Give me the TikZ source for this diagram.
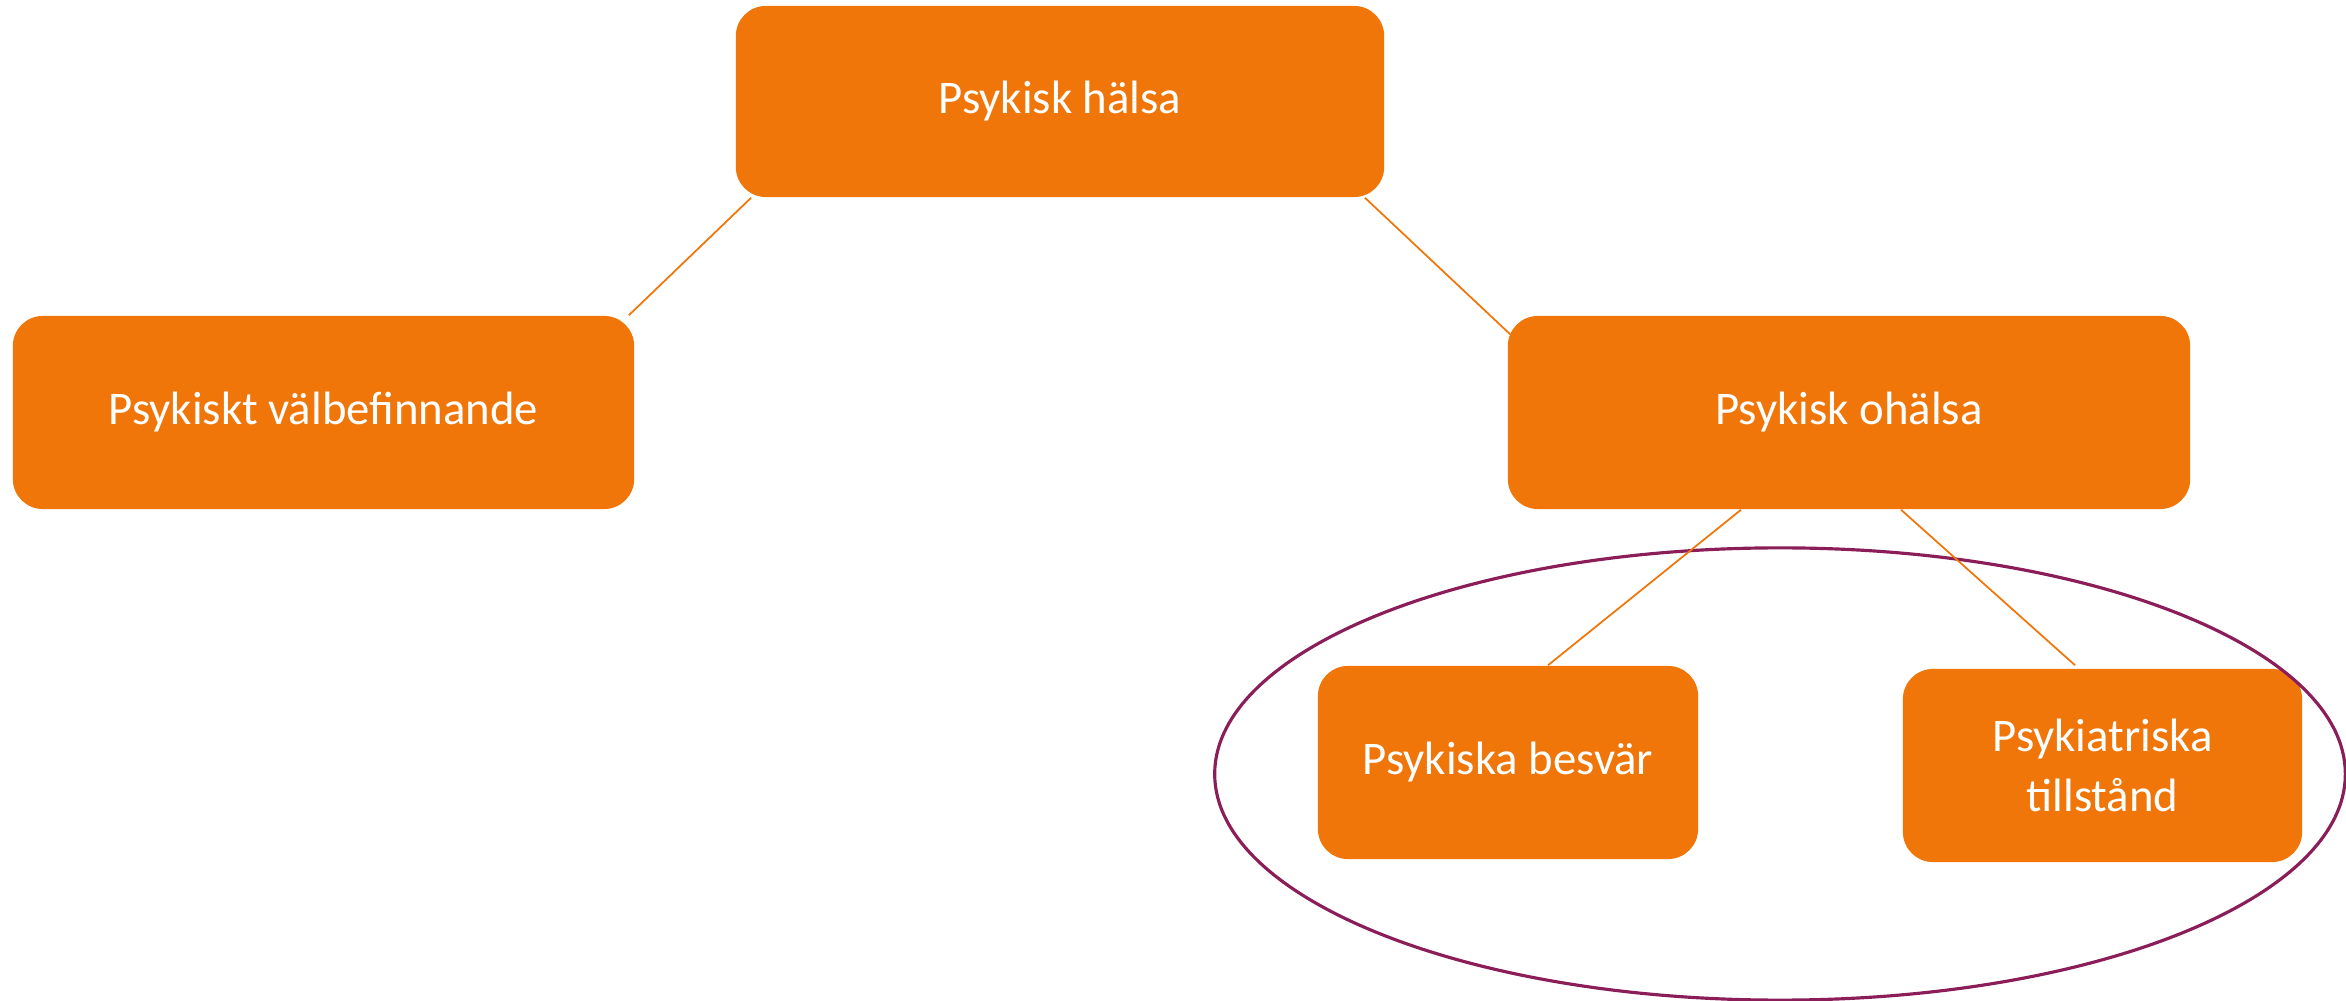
\documentclass[tikz,border=0pt]{standalone}
\usepackage{fontspec}
\setmainfont{Carlito}
\usetikzlibrary{calc,shapes.geometric}
\definecolor{boxorange}{HTML}{F0760A}
\definecolor{ringpurple}{HTML}{8B1E58}
\tikzset{
  topic/.style={
    fill=boxorange,
    rounded corners=0.3cm,
    minimum height=1.93cm,
    align=center,
    text=white,
    inner sep=0pt,
    font=\fontsize{13.3}{17}\selectfont
  },
  link/.style={draw=boxorange,line width=0.5pt},
  ring/.style={draw=ringpurple,line width=0.9pt}
}

\begin{document}
\begin{tikzpicture}[x=0.01cm,y=-0.01cm]
  \useasboundingbox (0,0) rectangle (2346,1001);

  \node[topic, minimum width=6.48cm, minimum height=1.91cm] (halsa) at (1060,101.5) {Psykisk hälsa};
  \node[topic, minimum width=6.21cm] (valbefinnande) at (323.5,412.5) {Psykiskt välbefinnande};
  \node[topic, minimum width=6.82cm] (ohalsa) at (1849,412.5) {Psykisk ohälsa};
  \node[topic, minimum width=3.80cm] (besvar) at (1508,762.5) {Psykiska besvär};
  \node[topic, minimum width=3.99cm] (tillstand) at (2102.5,765.5) {Psykiatriska\\tillstånd};

  % group of the two kinds of ill health
  \node[ring, ellipse, minimum width=11.3cm, minimum height=4.52cm] (group) at (1780,774) {};

  \draw[link] ($(halsa.south west)+(16,0)$) -- ($(valbefinnande.north east)+(-6,0)$);
  \draw[link] ($(halsa.south east)+(-20,0)$) -- ($(ohalsa.north west)+(3,19)$);
  \draw[link] ($(ohalsa.south)+(-108,0)$) -- ($(besvar.north)+(40,0)$);
  \draw[link] ($(ohalsa.south)+(52,0)$) -- ($(tillstand.north)+(-27.5,-3)$);
\end{tikzpicture}
\end{document}
